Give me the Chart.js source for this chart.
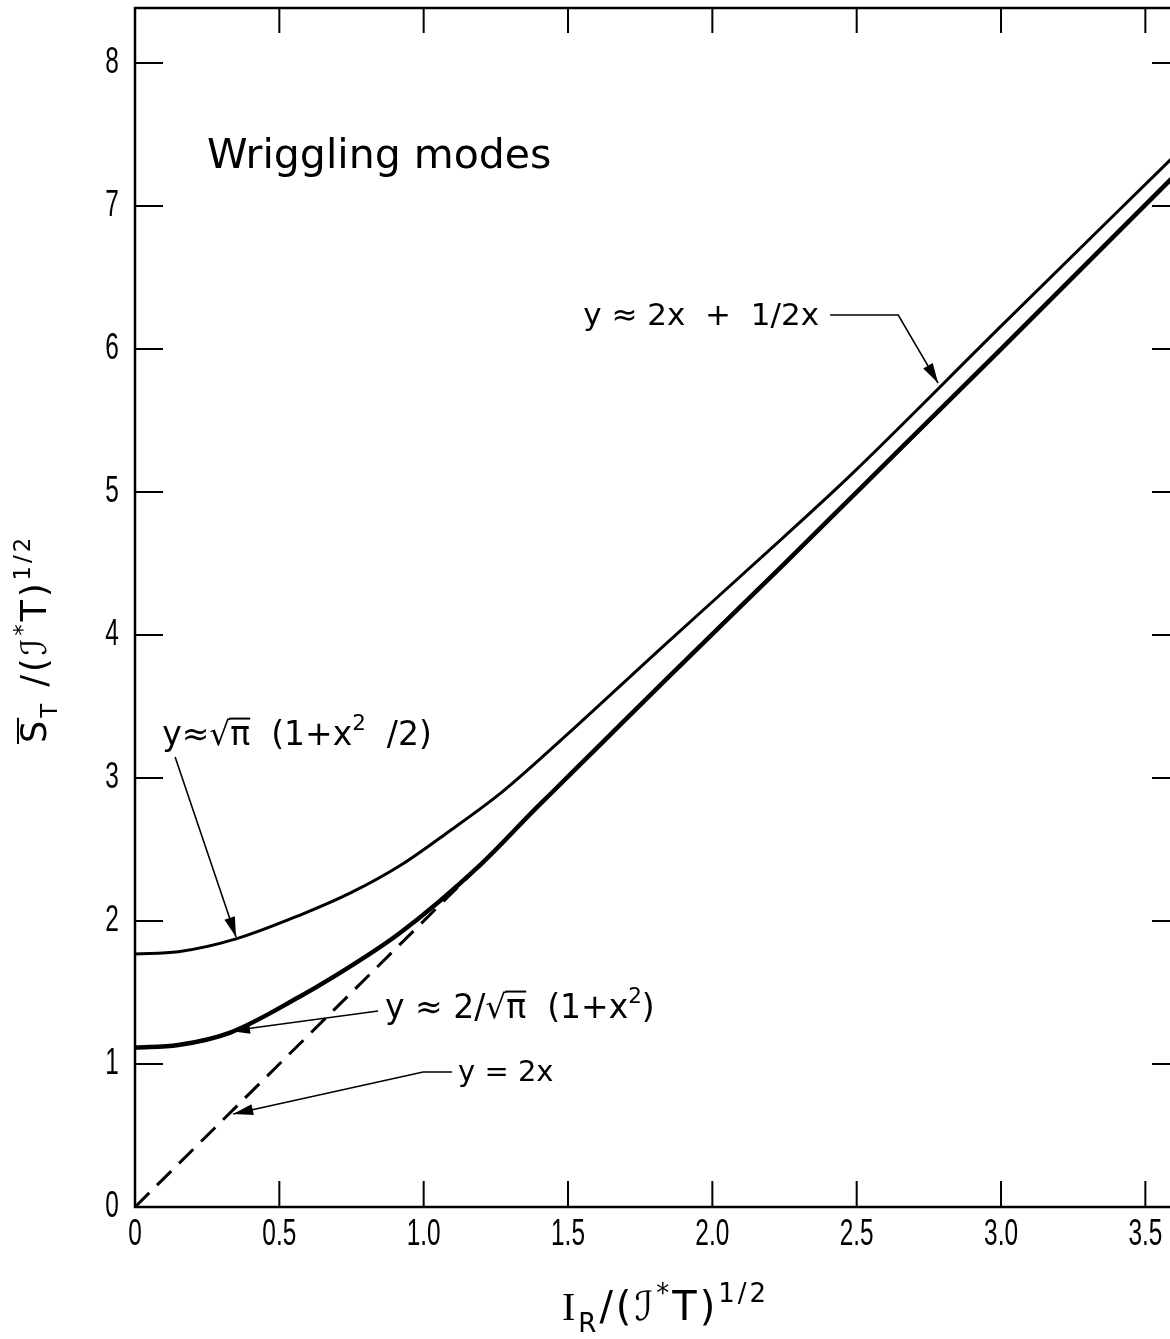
<!DOCTYPE html>
<html>
<head>
<meta charset="utf-8">
<script src="https://cdn.jsdelivr.net/npm/chart.js@4.4.0/dist/chart.umd.min.js"></script>
<style>
html, body { margin: 0; padding: 0; background: #fff; overflow: hidden; }
canvas { display: block; }
</style>
</head>
<body>
<canvas id="wriggleChart" width="1200" height="1339"></canvas>
<script>
// values (x = I_R/(J*T)^1/2, y = S_T/(J*T)^1/2)
var xUpper = [0, 0.15, 0.35, 0.57, 0.75, 0.92, 1.09, 1.27, 1.44, 1.84, 2.25, 2.48, 3.0, 3.59];
var yUpper = [1.77, 1.785, 1.875, 2.04, 2.2, 2.39, 2.63, 2.9, 3.2, 3.94, 4.69, 5.12, 6.16, 7.33];
var xLower = [0, 0.15, 0.33, 0.57, 0.68, 0.92, 1.2, 1.38, 1.44, 1.61, 1.84, 2.25, 2.5, 3.0, 3.59];
var yLower = [1.115, 1.133, 1.22, 1.47, 1.6, 1.92, 2.4, 2.77, 2.89, 3.23, 3.69, 4.5, 5.0, 6.0, 7.19];
var xDashed = [0, 1.2];
var yDashed = [0, 2.4];
var xTicks = [0, 0.5, 1.0, 1.5, 2.0, 2.5, 3.0, 3.5];
var xTickLabels = ['0', '0.5', '1.0', '1.5', '2.0', '2.5', '3.0', '3.5'];
var yTicks = [0, 1, 2, 3, 4, 5, 6, 7, 8];

// labels and arrows, placed in data units
var notes = [
  { x: 0.249, y: 7.265, size: 41, segs: [['Wriggling modes']] },
  { x: 0.094, y: 3.231, size: 33, segs: [['y'], ['≈'], ['√'], ['π', 'bar'], ['  (1+x'], ['2', 'sup'], ['  /2)']] },
  { x: 0.866, y: 1.322, size: 33, segs: [['y ≈ 2/'], ['√'], ['π', 'bar'], ['  (1+x'], ['2', 'sup'], [')']] },
  { x: 1.119, y: 0.881, size: 29, segs: [['y = 2x']] },
  { x: 1.553, y: 6.168, size: 31, segs: [['y ≈ 2x  +  1/2x']] }
];
var arrows = [
  [[0.139, 3.147], [0.350, 1.888]],
  [[0.842, 1.371], [0.329, 1.231]],
  [[1.098, 0.944], [0.998, 0.944], [0.340, 0.650]],
  [[2.408, 6.238], [2.644, 6.238], [2.782, 5.762]]
];

var textFont = "'DejaVu Sans', sans-serif";
var tickFont = "'Liberation Sans', Arial, sans-serif";

function points(xs, ys) {
  return xs.map(function(x, i) { return { x: x, y: ys[i] }; });
}

function drawRich(ctx, segs, x, y, size) {
  var cx = x;
  segs.forEach(function(s) {
    var t = s[0], k = s[1] || '', fam = s[2] || textFont;
    var fs = (k === 'sup' || k === 'sub') ? size * 0.65 : size;
    var dy = k === 'sup' ? -size * 0.45 : (k === 'sub' ? size * 0.3 : 0);
    ctx.font = fs + 'px ' + fam;
    ctx.fillText(t, cx, y + dy);
    var w = ctx.measureText(t).width;
    if (k === 'bar') {
      ctx.lineWidth = 2;
      ctx.beginPath();
      ctx.moveTo(cx - 1, y - size * 0.8);
      ctx.lineTo(cx + w, y - size * 0.8);
      ctx.stroke();
    }
    cx += w;
  });
  return cx - x;
}

// narrow tick numerals, squeezed like the original lettering
function narrowText(ctx, t, x, y) {
  ctx.save();
  ctx.translate(x, y);
  ctx.scale(0.66, 1);
  ctx.font = '37px ' + tickFont;
  ctx.textAlign = 'center';
  ctx.textBaseline = 'middle';
  ctx.fillText(t, 0, 0);
  ctx.restore();
}

function arrowHead(ctx, from, to) {
  var ang = Math.atan2(to[1] - from[1], to[0] - from[0]);
  var len = 20, half = 5.5;
  ctx.beginPath();
  ctx.moveTo(to[0], to[1]);
  ctx.lineTo(to[0] - len * Math.cos(ang) + half * Math.sin(ang), to[1] - len * Math.sin(ang) - half * Math.cos(ang));
  ctx.lineTo(to[0] - len * Math.cos(ang) - half * Math.sin(ang), to[1] - len * Math.sin(ang) + half * Math.cos(ang));
  ctx.closePath();
  ctx.fill();
}

var framePlugin = {
  id: 'frame',
  afterDatasetsDraw: function(chart) {
    var ctx = chart.ctx, a = chart.chartArea, sx = chart.scales.x, sy = chart.scales.y;
    ctx.save();
    ctx.strokeStyle = '#000';
    ctx.fillStyle = '#000';
    ctx.lineWidth = 2.5;
    ctx.strokeRect(a.left, a.top, a.right - a.left, a.bottom - a.top);
    ctx.lineWidth = 2;
    ctx.beginPath();
    xTicks.forEach(function(v) {
      if (v === 0) return;
      var p = sx.getPixelForValue(v);
      ctx.moveTo(p, a.bottom); ctx.lineTo(p, a.bottom - 26);
      ctx.moveTo(p, a.top); ctx.lineTo(p, a.top + 25);
    });
    yTicks.forEach(function(v) {
      if (v === 0) return;
      var p = sy.getPixelForValue(v);
      ctx.moveTo(a.left, p); ctx.lineTo(a.left + 28, p);
      ctx.moveTo(a.right, p); ctx.lineTo(a.right - 28, p);
    });
    ctx.stroke();

    // tick labels
    xTicks.forEach(function(v, i) { narrowText(ctx, xTickLabels[i], sx.getPixelForValue(v), a.bottom + 28); });
    yTicks.forEach(function(v) { narrowText(ctx, String(v), a.left - 23, sy.getPixelForValue(v)); });

    // annotations
    ctx.textBaseline = 'alphabetic';
    ctx.textAlign = 'left';
    notes.forEach(function(n) {
      drawRich(ctx, n.segs, sx.getPixelForValue(n.x), sy.getPixelForValue(n.y), n.size);
    });
    ctx.lineWidth = 1.6;
    arrows.forEach(function(pts) {
      var px = pts.map(function(p) { return [sx.getPixelForValue(p[0]), sy.getPixelForValue(p[1])]; });
      ctx.beginPath();
      ctx.moveTo(px[0][0], px[0][1]);
      for (var i = 1; i < px.length; i++) ctx.lineTo(px[i][0], px[i][1]);
      ctx.stroke();
      arrowHead(ctx, px[px.length - 2], px[px.length - 1]);
    });

    // axis titles
    ctx.letterSpacing = '3px';
    drawRich(ctx, [['I', '', "'Liberation Serif', serif"], ['R', 'sub'], ['/('], ['ℐ'], ['*', 'sup'], ['T)'], ['1/2', 'sup']], 562, 1320, 40);
    ctx.translate(46, 743);
    ctx.rotate(-Math.PI / 2);
    drawRich(ctx, [['S', 'bar'], ['T', 'sub'], [' /('], ['ℐ'], ['*', 'sup'], ['T)'], ['1/2', 'sup']], 0, 0, 35);
    ctx.letterSpacing = '0px';
    ctx.restore();
  }
};

function start() {
  var ctx = document.getElementById('wriggleChart').getContext('2d');
  new Chart(ctx, {
    type: 'scatter',
    data: {
      datasets: [
        { data: points(xUpper, yUpper), showLine: true, borderColor: '#000', borderWidth: 3, pointRadius: 0, cubicInterpolationMode: 'monotone' },
        { data: points(xLower, yLower), showLine: true, borderColor: '#000', borderWidth: 4.5, pointRadius: 0, cubicInterpolationMode: 'monotone' },
        { data: points(xDashed, yDashed), showLine: true, borderColor: '#000', borderWidth: 3, pointRadius: 0, borderDash: [20, 11] }
      ]
    },
    options: {
      responsive: false,
      animation: false,
      devicePixelRatio: 1,
      events: [],
      layout: { padding: { top: 8, right: 20, left: 0, bottom: 0 }, autoPadding: false },
      plugins: { legend: { display: false }, tooltip: { enabled: false } },
      scales: {
        x: {
          type: 'linear', min: 0, max: 3.62,
          grid: { display: false, drawTicks: false },
          border: { display: false },
          ticks: { display: false },
          afterBuildTicks: function(s) { s.ticks = xTicks.map(function(v) { return { value: v }; }); },
          afterFit: function(s) { s.height = 132; s.paddingLeft = 0; s.paddingRight = 0; }
        },
        y: {
          type: 'linear', min: 0, max: 8.385,
          grid: { display: false, drawTicks: false },
          border: { display: false },
          ticks: { display: false },
          afterBuildTicks: function(s) { s.ticks = yTicks.map(function(v) { return { value: v }; }); },
          afterFit: function(s) { s.width = 135; s.paddingTop = 0; s.paddingBottom = 0; }
        }
      }
    },
    plugins: [framePlugin]
  });
}

document.addEventListener('DOMContentLoaded', start);
</script>
</body>
</html>
